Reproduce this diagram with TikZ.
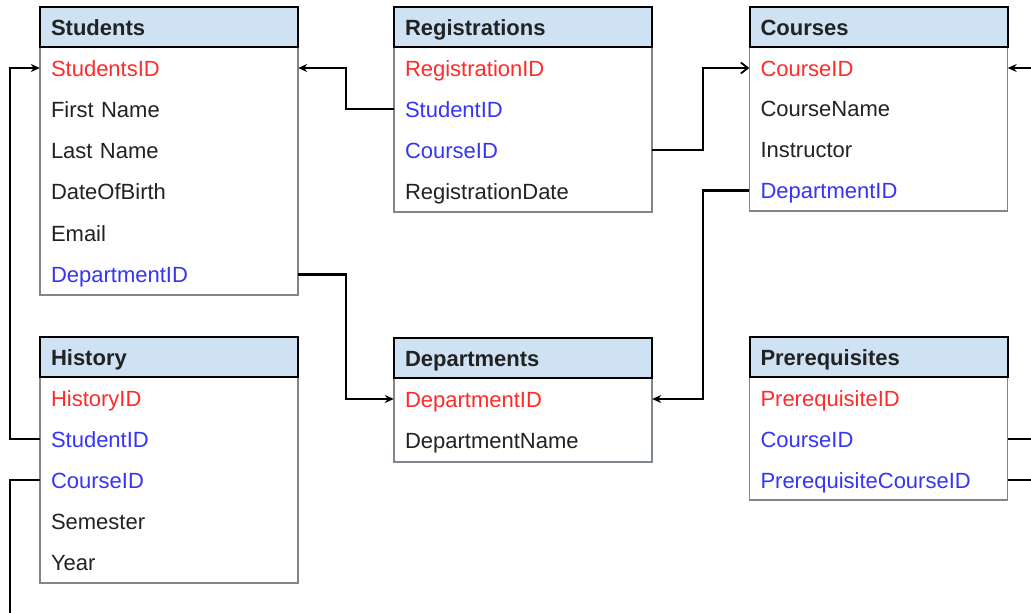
\documentclass[tikz,border=0pt]{standalone}
\usepackage{fontspec}
\setmainfont{Liberation Sans}
\usetikzlibrary{arrows.meta}
\definecolor{pk}{HTML}{FF2A2A}
\definecolor{fk}{HTML}{3535F5}
\definecolor{hdr}{HTML}{CFE2F3}
\definecolor{txt}{HTML}{222222}
\definecolor{bodyline}{HTML}{7F8690}
\begin{document}
\begin{tikzpicture}[x=1pt,y=-1pt,
  field/.style={rectangle, minimum height=41pt, text width=236pt, inner xsep=11pt, inner ysep=0pt,
    text height=16pt, text depth=0pt,
    align=left, font=\fontsize{22}{24}\selectfont, text=txt},
  pkey/.style={field, text=pk},
  fkey/.style={field, text=fk},
  header/.style={rectangle, draw=black, line width=2pt, fill=hdr, minimum height=40pt,
    text width=236pt, inner xsep=11pt, inner ysep=0pt, align=left,
    text height=16pt, text depth=0pt,
    font=\bfseries\fontsize{22}{24}\selectfont, text=txt},
  tablebody/.style={draw=bodyline, line width=1.2pt, fill=white},
  link/.style={draw=black, line width=2.2pt},
  arr/.style={link, -{Stealth[length=9pt,width=8pt]}},
  openarr/.style={link, -{Straight Barb[length=7pt,width=11pt,line width=1.8pt]}}
]
\useasboundingbox[fill=white] (0,0) rectangle (1031,613);

% ---------- Students ----------
\draw[tablebody] (40,47) rectangle (298,295);
\node[header] (sH) at (169,27) {Students};
\node[pkey] (s1) at (169,68)    {StudentsID};
\node[field] (s2) at (169,109.3) {First Name};
\node[field] (s3) at (169,150.6) {Last Name};
\node[field] (s4) at (169,191.9) {DateOfBirth};
\node[field] (s5) at (169,233.2) {Email};
\node[fkey] (s6) at (169,274.5) {DepartmentID};

% ---------- Registrations ----------
\draw[tablebody] (394,47) rectangle (652,212);
\node[header] (rH) at (523,27) {Registrations};
\node[pkey] (r1) at (523,68)    {RegistrationID};
\node[fkey] (r2) at (523,109)   {StudentID};
\node[fkey] (r3) at (523,150)   {CourseID};
\node[field] (r4) at (523,191)  {RegistrationDate};

% ---------- Courses ----------
\draw[tablebody] (749.5,47) rectangle (1007.5,211);
\node[header] (cH) at (878.5,27) {Courses};
\node[pkey] (c1) at (878.5,68)   {CourseID};
\node[field] (c2) at (878.5,108.5) {CourseName};
\node[field] (c3) at (878.5,149.5) {Instructor};
\node[fkey] (c4) at (878.5,190.5) {DepartmentID};

% ---------- History ----------
\draw[tablebody] (40,377) rectangle (298,583);
\node[header] (hH) at (169,357) {History};
\node[pkey] (h1) at (169,398)  {HistoryID};
\node[fkey] (h2) at (169,439)  {StudentID};
\node[fkey] (h3) at (169,480)  {CourseID};
\node[field] (h4) at (169,521) {Semester};
\node[field] (h5) at (169,562.5) {Year};

% ---------- Departments ----------
\draw[tablebody] (394,378) rectangle (652,462);
\node[header] (dH) at (523,358) {Departments};
\node[pkey] (d1) at (523,399)  {DepartmentID};
\node[field] (d2) at (523,440) {DepartmentName};

% ---------- Prerequisites ----------
\draw[tablebody] (749.5,377) rectangle (1007.5,500);
\node[header] (pH) at (878.5,357) {Prerequisites};
\node[pkey] (p1) at (878.5,398)  {PrerequisiteID};
\node[fkey] (p2) at (878.5,439)  {CourseID};
\node[fkey] (p3) at (878.5,480)  {PrerequisiteCourseID};

% ---------- free ends at the picture's edges ----------
\coordinate (eC) at (1031,68);
\coordinate (eP2) at (1031,439);
\coordinate (eP3) at (1031,480);
\coordinate (eB) at (10,613);

% ---------- connectors ----------
\draw[arr] (r2.west) -- ++(-48,0) |- (s1.east);
\draw[openarr] (r3.east) -- ++(51,0) |- (c1.west);
\draw[arr] (s6.east) -- ++(48,0) |- (d1.west);
\draw[arr] (c4.west) -- ++(-46.5,0) |- (d1.east);
\draw[arr] (h2.west) -- ++(-30,0) |- (s1.west);
\draw[link] (h3.west) -| (eB);
\draw[arr] (eC) -- (c1.east);
\draw[link] (p2.east) -- (eP2);
\draw[link] (p3.east) -- (eP3);
\end{tikzpicture}
\end{document}
